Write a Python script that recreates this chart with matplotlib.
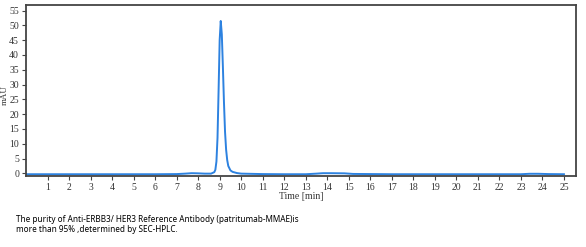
import numpy as np
from matplotlib import pyplot as plt

# chromatogram
time_min = [0, 1, 2, 3, 4, 5, 6, 7, 7.4, 7.7, 8.0, 8.3, 8.6, 8.75, 8.8, 8.85, 8.9,
            8.95, 9.0, 9.05, 9.1, 9.15, 9.2, 9.25, 9.3, 9.35, 9.4, 9.5, 9.6, 9.8,
            10, 11, 12, 13, 13.5, 13.8, 14.2, 14.8, 15.2, 17, 20, 22, 23, 23.4,
            23.8, 24.3, 25]
mau = [-0.3, -0.3, -0.3, -0.3, -0.3, -0.3, -0.3, -0.25, -0.1, 0.05, 0.0, -0.1,
       -0.1, 0.4, 1.2, 4, 12, 28, 45, 51.5, 47, 36, 24, 14, 8, 4.5, 2.5, 1.0,
       0.5, 0.1, -0.1, -0.25, -0.3, -0.3, -0.1, 0.05, 0.05, 0.0, -0.2, -0.3,
       -0.3, -0.3, -0.3, -0.15, -0.15, -0.25, -0.3]

xticks = list(range(1, 26))
yticks = list(range(0, 56, 5))

caption = ("The purity of Anti-ERBB3/ HER3 Reference Antibody (patritumab-MMAE)is\n"
           "more than 95% ,determined by SEC-HPLC.")

fig = plt.figure(figsize=(5.86, 2.47), dpi=100)
ax = fig.add_axes([26/586, 1-176/247, 550/586, 171/247])
ax.plot(time_min, mau, color='#2d82e0', lw=1.4)
ax.set_xlim(0, 25.56)
ax.set_ylim(-0.9, 56.9)
ax.set_xticks(xticks)
ax.set_yticks(yticks)
for s in ax.spines.values():
    s.set_color('#444444')
    s.set_linewidth(1.3)
ax.tick_params(direction='out', length=3, width=0.8, color='#444444',
               labelsize=7, pad=2, labelcolor='#333333')
for lab in ax.get_xticklabels() + ax.get_yticklabels():
    lab.set_family('Liberation Serif')
ax.set_xlabel('Time [min]', family='Liberation Serif', fontsize=7,
              color='#333333', labelpad=0)
fig.text(5/586, 1-95/247, 'mAU', family='Liberation Serif', fontsize=6.5,
         color='#333333', rotation=90, ha='center', va='center')

fig.text(16/586, 1-215/247, caption, fontsize=5.9, family='Noto Sans',
         va='top', linespacing=1.2, color='black')

plt.savefig('out.png', dpi=100)
